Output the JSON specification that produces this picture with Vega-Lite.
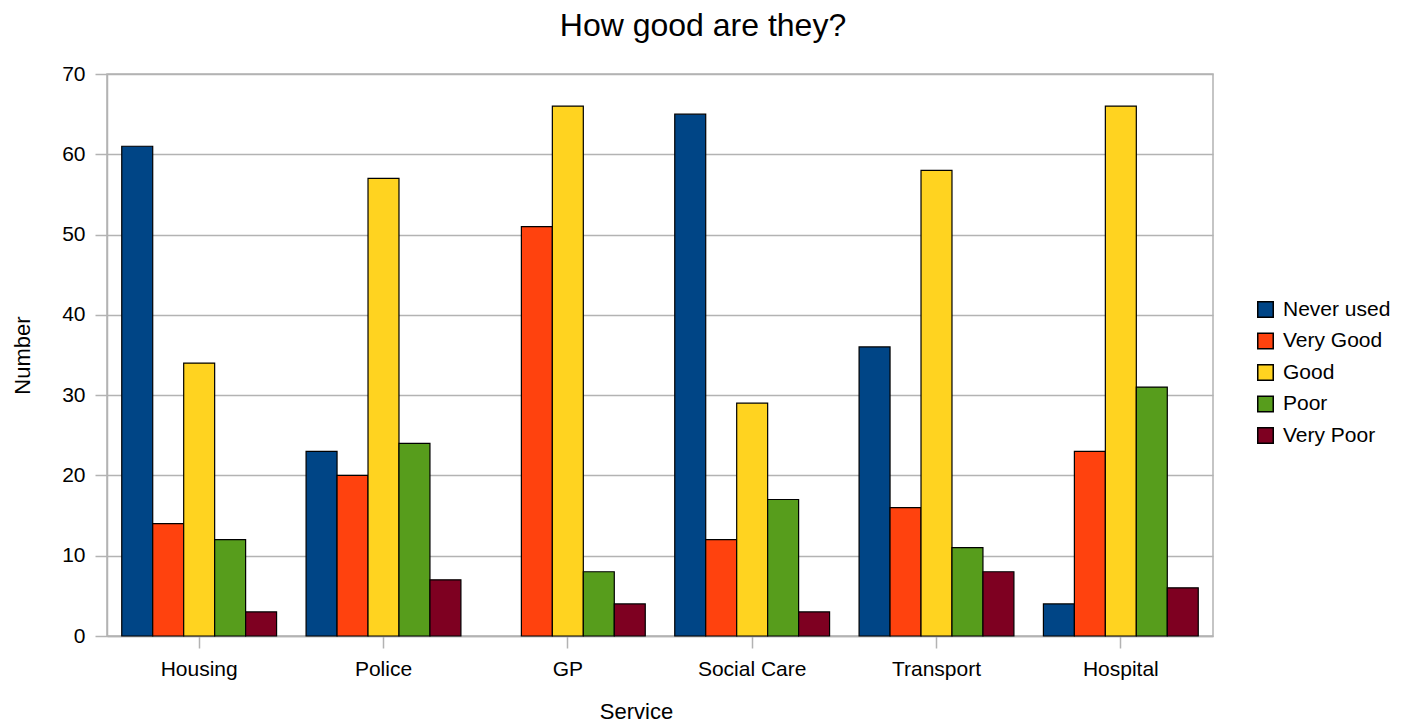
{
  "$schema": "https://vega.github.io/schema/vega-lite/v6.json",
  "autosize": {"type": "none"},
  "width": 1106,
  "height": 562,
  "padding": {"left": 107, "top": 74, "right": 194, "bottom": 92},
  "background": "white",
  "title": {
    "text": "How good are they?",
    "fontSize": 32,
    "font": "Liberation Sans",
    "fontWeight": "normal",
    "color": "#000000",
    "anchor": "middle",
    "dx": 43,
    "offset": 20
  },
  "config": {
    "font": "Liberation Sans",
    "view": {"stroke": "#b3b3b3", "strokeWidth": 1.5}
  },
  "data": {
    "values": [
      {"service": "Housing", "rating": "Never used", "number": 61},
      {"service": "Housing", "rating": "Very Good", "number": 14},
      {"service": "Housing", "rating": "Good", "number": 34},
      {"service": "Housing", "rating": "Poor", "number": 12},
      {"service": "Housing", "rating": "Very Poor", "number": 3},
      {"service": "Police", "rating": "Never used", "number": 23},
      {"service": "Police", "rating": "Very Good", "number": 20},
      {"service": "Police", "rating": "Good", "number": 57},
      {"service": "Police", "rating": "Poor", "number": 24},
      {"service": "Police", "rating": "Very Poor", "number": 7},
      {"service": "GP", "rating": "Never used", "number": 0},
      {"service": "GP", "rating": "Very Good", "number": 51},
      {"service": "GP", "rating": "Good", "number": 66},
      {"service": "GP", "rating": "Poor", "number": 8},
      {"service": "GP", "rating": "Very Poor", "number": 4},
      {"service": "Social Care", "rating": "Never used", "number": 65},
      {"service": "Social Care", "rating": "Very Good", "number": 12},
      {"service": "Social Care", "rating": "Good", "number": 29},
      {"service": "Social Care", "rating": "Poor", "number": 17},
      {"service": "Social Care", "rating": "Very Poor", "number": 3},
      {"service": "Transport", "rating": "Never used", "number": 36},
      {"service": "Transport", "rating": "Very Good", "number": 16},
      {"service": "Transport", "rating": "Good", "number": 58},
      {"service": "Transport", "rating": "Poor", "number": 11},
      {"service": "Transport", "rating": "Very Poor", "number": 8},
      {"service": "Hospital", "rating": "Never used", "number": 4},
      {"service": "Hospital", "rating": "Very Good", "number": 23},
      {"service": "Hospital", "rating": "Good", "number": 66},
      {"service": "Hospital", "rating": "Poor", "number": 31},
      {"service": "Hospital", "rating": "Very Poor", "number": 6}
    ]
  },
  "transform": [{"filter": "datum.number > 0"}],
  "mark": {"type": "bar", "stroke": "#000000", "strokeWidth": 1.2},
  "encoding": {
    "x": {
      "field": "service",
      "type": "nominal",
      "sort": ["Housing", "Police", "GP", "Social Care", "Transport", "Hospital"],
      "scale": {"paddingInner": 0.16, "paddingOuter": 0.08},
      "axis": {
        "title": "Service",
        "titleFontSize": 22,
        "titleFontWeight": "normal",
        "titleColor": "#000000",
        "titlePadding": 22,
        "titleX": 529,
        "labelAngle": 0,
        "labelFontSize": 21,
        "labelColor": "#000000",
        "labelPadding": 10,
        "tickSize": 12,
        "tickColor": "#b3b3b3",
        "tickWidth": 1.5,
        "domainColor": "#b3b3b3",
        "domainWidth": 1.5
      }
    },
    "xOffset": {
      "field": "rating",
      "type": "nominal",
      "sort": ["Never used", "Very Good", "Good", "Poor", "Very Poor"],
      "scale": {
        "domain": ["Never used", "Very Good", "Good", "Poor", "Very Poor"],
        "paddingInner": 0,
        "paddingOuter": 0
      }
    },
    "y": {
      "field": "number",
      "type": "quantitative",
      "scale": {"domain": [0, 70], "nice": false},
      "axis": {
        "title": "Number",
        "titleFontSize": 22,
        "titleFontWeight": "normal",
        "titleColor": "#000000",
        "titlePadding": 27,
        "values": [0, 10, 20, 30, 40, 50, 60, 70],
        "labelFontSize": 21,
        "labelColor": "#000000",
        "labelPadding": 10,
        "tickSize": 12,
        "tickColor": "#b3b3b3",
        "tickWidth": 1.5,
        "domainColor": "#b3b3b3",
        "domainWidth": 1.5,
        "grid": true,
        "gridColor": "#b3b3b3",
        "gridWidth": 1.5
      }
    },
    "color": {
      "field": "rating",
      "type": "nominal",
      "sort": ["Never used", "Very Good", "Good", "Poor", "Very Poor"],
      "scale": {
        "domain": ["Never used", "Very Good", "Good", "Poor", "Very Poor"],
        "range": ["#004586", "#ff420e", "#ffd320", "#579d1c", "#7e0021"]
      },
      "legend": {
        "title": null,
        "orient": "none",
        "legendX": 1148,
        "legendY": 225,
        "symbolType": "square",
        "symbolSize": 240,
        "symbolStrokeColor": "#000000",
        "symbolStrokeWidth": 1.5,
        "symbolOpacity": 1,
        "labelFontSize": 21,
        "labelColor": "#000000",
        "labelOffset": 7,
        "rowPadding": 8.5
      }
    }
  }
}
